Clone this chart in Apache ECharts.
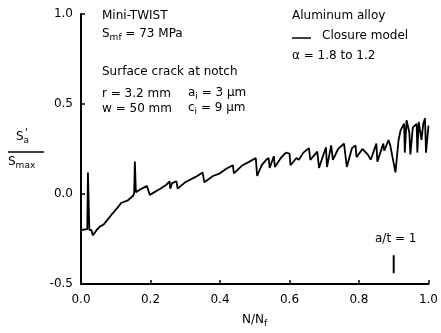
<!DOCTYPE html>
<html>
<head>
<meta charset="utf-8">
<script src="https://cdn.jsdelivr.net/npm/echarts@6/dist/echarts.min.js"></script>
<style>
  html, body { margin: 0; padding: 0; background: #fff; }
  #chart { width: 441px; height: 333px; }
</style>
</head>
<body>
<div id="chart"></div>
<script>
// N/Nf values of the closure-model curve
const cycleRatio = [
  0.0, 0.018, 0.02, 0.024, 0.03, 0.034, 0.045, 0.055, 0.065, 0.07, 0.09, 0.11, 0.115, 0.12, 0.135, 0.15,
  0.153, 0.155, 0.158, 0.17, 0.19, 0.195, 0.198, 0.22, 0.245, 0.255, 0.257, 0.262, 0.275, 0.278, 0.3, 0.33,
  0.35, 0.355, 0.38, 0.4, 0.418, 0.437, 0.44, 0.465, 0.485, 0.503, 0.507, 0.52, 0.533, 0.54, 0.543, 0.555,
  0.558, 0.575, 0.59, 0.6, 0.603, 0.62, 0.627, 0.64, 0.656, 0.66, 0.68, 0.685, 0.705, 0.708, 0.72, 0.725,
  0.74, 0.757, 0.765, 0.78, 0.79, 0.793, 0.81, 0.825, 0.834, 0.85, 0.853, 0.87, 0.873, 0.885, 0.89, 0.905,
  0.914, 0.92, 0.93, 0.932, 0.937, 0.945, 0.948, 0.955, 0.966, 0.968, 0.972, 0.98, 0.985, 0.99, 0.993, 1.0
];
// Sa*/Smax values
const stressRatio = [
  -0.2, -0.195, 0.12, -0.2, -0.2, -0.23, -0.2, -0.18, -0.17, -0.16, -0.11, -0.065, -0.05, -0.06, -0.035, -0.01,
  0.005, 0.18, 0.01, 0.025, 0.045, 0.04, -0.005, 0.02, 0.05, 0.07, 0.03, 0.06, 0.07, 0.03, 0.065, 0.095,
  0.12, 0.065, 0.1, 0.115, 0.14, 0.16, 0.115, 0.16, 0.18, 0.2, 0.1, 0.16, 0.19, 0.2, 0.145, 0.21,
  0.15, 0.2, 0.23, 0.225, 0.16, 0.2, 0.19, 0.23, 0.255, 0.19, 0.235, 0.145, 0.26, 0.15, 0.27, 0.19,
  0.25, 0.28, 0.15, 0.255, 0.27, 0.205, 0.25, 0.22, 0.19, 0.28, 0.18, 0.28, 0.24, 0.3, 0.27, 0.12,
  0.3, 0.355, 0.39, 0.23, 0.41, 0.34, 0.22, 0.37, 0.39, 0.23, 0.4, 0.3, 0.39, 0.42, 0.23, 0.38
];
// a/t = 1 marker
const markerX = [0.9, 0.9];
const markerY = [-0.34, -0.44];

const xTicks = [0, 0.2, 0.4, 0.6, 0.8, 1.0];
const yTicks = [-0.5, 0, 0.5, 1.0];

const font = 'DejaVu Sans';
const chart = echarts.init(document.getElementById('chart'));

const subRich = {
  n: { fontFamily: font, fontSize: 12, color: '#000' },
  s: { fontFamily: font, fontSize: 9, color: '#000', padding: [8, 0, 0, 0] }
};

chart.setOption({
  animation: false,
  grid: { left: 81, right: 11, top: 14, bottom: 49 },
  xAxis: {
    type: 'value',
    min: xTicks[0],
    max: xTicks[xTicks.length - 1],
    interval: 0.2,
    axisLine: { onZero: false, lineStyle: { color: '#000', width: 2 } },
    axisTick: { inside: true, length: 4, lineStyle: { color: '#000', width: 1.5 } },
    axisLabel: { color: '#000', fontFamily: font, fontSize: 12, margin: 10, formatter: v => v.toFixed(1) },
    splitLine: { show: false }
  },
  yAxis: {
    type: 'value',
    min: yTicks[0],
    max: yTicks[yTicks.length - 1],
    interval: 0.5,
    axisLine: { show: true, onZero: false, lineStyle: { color: '#000', width: 2 } },
    axisTick: { show: true, inside: true, length: 4, lineStyle: { color: '#000', width: 1.5 } },
    axisLabel: { color: '#000', fontFamily: font, fontSize: 12, margin: 8, formatter: v => v.toFixed(1) },
    splitLine: { show: false }
  },
  series: [
    {
      name: 'Closure model',
      type: 'line',
      data: cycleRatio.map((x, i) => [x, stressRatio[i]]),
      showSymbol: false,
      lineStyle: { color: '#000', width: 1.8 }
    },
    {
      type: 'line',
      data: markerX.map((x, i) => [x, markerY[i]]),
      showSymbol: false,
      lineStyle: { color: '#000', width: 2 }
    }
  ],
  graphic: [
    { type: 'text', left: 102, top: 10, style: { text: 'Mini-TWIST', font: '12px ' + font, fill: '#000' } },
    { type: 'text', left: 102, top: 28, style: { text: '{n|S}{s|mf}{n| = 73 MPa}', rich: subRich } },
    { type: 'text', left: 102, top: 66, style: { text: 'Surface crack at notch', font: '12px ' + font, fill: '#000' } },
    { type: 'text', left: 102, top: 88, style: { text: 'r = 3.2 mm', font: '12px ' + font, fill: '#000' } },
    { type: 'text', left: 188, top: 87, style: { text: '{n|a}{s|i}{n| = 3 μm}', rich: subRich } },
    { type: 'text', left: 102, top: 103, style: { text: 'w = 50 mm', font: '12px ' + font, fill: '#000' } },
    { type: 'text', left: 188, top: 102, style: { text: '{n|c}{s|i}{n| = 9 μm}', rich: subRich } },
    { type: 'text', left: 292, top: 10, style: { text: 'Aluminum alloy', font: '12px ' + font, fill: '#000' } },
    { type: 'line', shape: { x1: 292, y1: 38, x2: 311, y2: 38 }, style: { stroke: '#000', lineWidth: 1.5 } },
    { type: 'text', left: 322, top: 30, style: { text: 'Closure model', font: '12px ' + font, fill: '#000' } },
    { type: 'text', left: 292, top: 50, style: { text: 'α = 1.8 to 1.2', font: '12px ' + font, fill: '#000' } },
    { type: 'text', left: 375, top: 233, style: { text: 'a/t = 1', font: '12px ' + font, fill: '#000' } },
    // y axis label as a fraction
    { type: 'text', left: 16, top: 131, style: { text: '{n|S}{s|a}', rich: subRich } },
    { type: 'text', left: 25, top: 128, style: { text: "'", font: '10px ' + font, fill: '#000' } },
    { type: 'line', shape: { x1: 8, y1: 152, x2: 44, y2: 152 }, style: { stroke: '#000', lineWidth: 1.5 } },
    { type: 'text', left: 8, top: 156, style: { text: '{n|S}{s|max}', rich: subRich } },
    // x axis label
    { type: 'text', left: 242, top: 314, style: { text: '{n|N/N}{s|f}', rich: subRich } }
  ]
});
</script>
</body>
</html>
